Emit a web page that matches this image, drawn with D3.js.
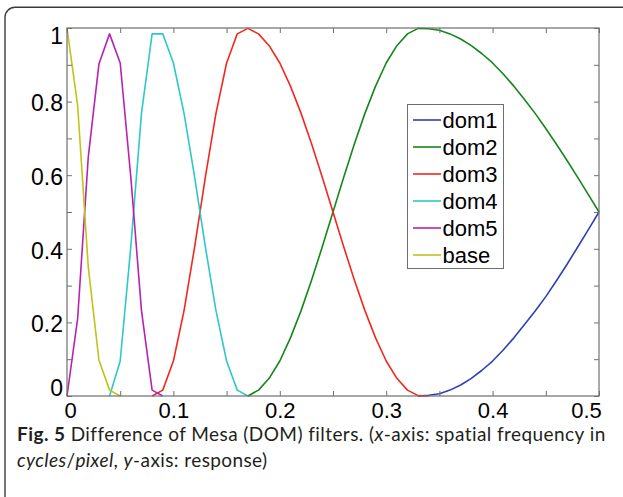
<!DOCTYPE html>
<html>
<head>
<meta charset="utf-8">
<script src="https://cdn.jsdelivr.net/npm/d3@7"></script>
<style>
  html, body { margin: 0; padding: 0; background: #fff; }
  svg { display: block; }
</style>
</head>
<body>
<svg id="chart" width="623" height="497"></svg>
<script>
// ---------------- data ----------------
const freq = [0,0.01,0.02,0.03,0.04,0.05,0.06,0.07,0.08,0.09,
  0.10,0.11,0.12,0.13,0.14,0.15,0.16,0.17,0.18,0.19,
  0.20,0.21,0.22,0.23,0.24,0.25,0.26,0.27,0.28,0.29,
  0.30,0.31,0.32,0.33,0.34,0.35,0.36,0.37,0.38,0.39,
  0.40,0.41,0.42,0.43,0.44,0.45,0.46,0.47,0.48,0.49,0.50];

const seriesNames = ["dom1","dom2","dom3","dom4","dom5","base"];
const seriesColors = ["#3040b4","#17861a","#f2281f","#2ec8c8","#b424b4","#c2c21c"];

// index into freq where each series begins
const dom1Start = 33;
const dom1 = [0,0.002,0.006,0.016,0.030,0.048,0.070,0.095,0.125,0.158,0.194,0.231,0.270,0.313,0.358,0.405,0.452,0.5];
const dom2Start = 17;
const dom2 = [0,0.016,0.048,0.095,0.158,0.232,0.316,0.406,0.5,0.594,0.684,0.768,0.842,0.905,0.952,0.984,0.999,
  0.998,0.994,0.984,0.970,0.952,0.930,0.905,0.875,0.842,0.806,0.768,0.727,0.684,0.640,0.594,0.547,0.5];
const dom3Start = 8;
const dom3 = [0,0.016,0.095,0.232,0.406,0.594,0.768,0.905,0.984,0.999,0.984,0.952,0.905,0.842,0.768,0.684,
  0.594,0.5,0.406,0.316,0.232,0.158,0.095,0.048,0.016,0.001,0];
const dom4Start = 4;
const dom4 = [0,0.095,0.406,0.768,0.984,0.984,0.905,0.768,0.594,0.406,0.232,0.095,0.016,0];
const dom5Start = 0;
const dom5 = [0,0.21,0.65,0.902,0.984,0.905,0.594,0.232,0.016,0];
const baseStart = 0;
const base = [1,0.79,0.35,0.098,0.016,0];

const xTickValues = [0,0.05,0.1,0.15,0.2,0.25,0.3,0.35,0.4,0.45,0.5];
const xTickLabels = {"0":"0","0.1":"0.1","0.2":"0.2","0.3":"0.3","0.4":"0.4","0.5":"0.5"};
const yTickValues = [0,0.1,0.2,0.3,0.4,0.5,0.6,0.7,0.8,0.9,1];
const yTickLabels = {"0":"0","0.2":"0.2","0.4":"0.4","0.6":"0.6","0.8":"0.8","1":"1"};

const captionBold = "Fig. 5";
const captionLine1 = [
  {t:" Difference of Mesa (DOM) filters. (", i:false},
  {t:"x", i:true},
  {t:"-axis: spatial frequency in", i:false}
];
const captionLine2 = [
  {t:"cycles", i:true},
  {t:"/", i:false},
  {t:"pixel", i:true},
  {t:", ", i:false},
  {t:"y", i:true},
  {t:"-axis: response)", i:false}
];

// ---------------- drawing ----------------
const svg = d3.select("#chart");

// outer panel frame (rounded corner, running off the right/bottom)
svg.append("rect")
  .attr("x", 5).attr("y", 7.3)
  .attr("width", 700).attr("height", 600)
  .attr("rx", 10).attr("ry", 10)
  .attr("fill", "#fff")
  .attr("stroke", "#3a3a3a")
  .attr("stroke-width", 1.4);

const plot = {left: 67, top: 28, right: 599, bottom: 396};
const x = d3.scaleLinear().domain([0, 0.5]).range([plot.left, plot.right]);
const y = d3.scaleLinear().domain([0, 1]).range([plot.bottom, plot.top]);

const fontAx = "'Liberation Sans', Arial, Helvetica, sans-serif";

// series
const allSeries = [
  {vals: dom1, start: dom1Start},
  {vals: dom2, start: dom2Start},
  {vals: dom3, start: dom3Start},
  {vals: dom4, start: dom4Start},
  {vals: dom5, start: dom5Start},
  {vals: base, start: baseStart}
];
const line = d3.line().x(d => x(d[0])).y(d => y(d[1]));
const gLines = svg.append("g");
allSeries.forEach((s, k) => {
  const pts = s.vals.map((v, i) => [freq[s.start + i], v]);
  gLines.append("path")
    .attr("d", line(pts))
    .attr("fill", "none")
    .attr("stroke", seriesColors[k])
    .attr("stroke-width", 1.6)
    .attr("stroke-linejoin", "round");
});

// axes (ticks pointing inward on all four sides)
const keyOf = v => String(+v.toFixed(2));
const axB = d3.axisBottom(x).tickValues(xTickValues).tickSizeInner(-5).tickSizeOuter(0).tickPadding(6)
  .tickFormat(v => xTickLabels[keyOf(v)] || "");
const axT = d3.axisTop(x).tickValues(xTickValues).tickSizeInner(-5).tickSizeOuter(0).tickFormat("");
const axL = d3.axisLeft(y).tickValues(yTickValues).tickSizeInner(-5).tickSizeOuter(0).tickPadding(4)
  .tickFormat(v => yTickLabels[keyOf(v)] || "");
const axR = d3.axisRight(y).tickValues(yTickValues).tickSizeInner(-5).tickSizeOuter(0).tickFormat("");

function styleAxis(g) {
  g.select(".domain").remove();
  g.selectAll(".tick line").attr("stroke", "#6e6e6e").attr("stroke-width", 1);
  g.selectAll(".tick text").attr("fill", "#000").style("font-family", fontAx).style("font-size", "23px");
}
const gB = svg.append("g").attr("transform", `translate(0,${plot.bottom})`).call(axB).call(styleAxis);
svg.append("g").attr("transform", `translate(0,${plot.top})`).call(axT).call(styleAxis);
const gL = svg.append("g").attr("transform", `translate(${plot.left},0)`).call(axL).call(styleAxis);
svg.append("g").attr("transform", `translate(${plot.right},0)`).call(axR).call(styleAxis);

// end labels nudged inward as in the figure
gB.selectAll(".tick text").style("font-size", "22px")
  .attr("dx", v => v === 0 ? 3 : (v === 0.5 ? -13 : 0));
gL.selectAll(".tick text").attr("dy", v => v === 1 ? "0.68em" : (v === 0 ? "-0.03em" : "0.4em"));

// plot box
svg.append("rect")
  .attr("x", plot.left).attr("y", plot.top)
  .attr("width", plot.right - plot.left).attr("height", plot.bottom - plot.top)
  .attr("fill", "none").attr("stroke", "#6e6e6e").attr("stroke-width", 1.2);

// legend
const leg = {x: 407.5, y: 104.5, w: 96, h: 164, row0: 120, rowH: 27};
const gLeg = svg.append("g");
gLeg.append("rect")
  .attr("x", leg.x).attr("y", leg.y).attr("width", leg.w).attr("height", leg.h)
  .attr("fill", "#fff").attr("stroke", "#6e6e6e").attr("stroke-width", 1);
seriesNames.forEach((name, k) => {
  const yy = leg.row0 + k * leg.rowH;
  gLeg.append("line")
    .attr("x1", leg.x + 5.5).attr("x2", leg.x + 33.5)
    .attr("y1", yy).attr("y2", yy)
    .attr("stroke", seriesColors[k]).attr("stroke-width", 1.6);
  gLeg.append("text")
    .attr("x", leg.x + 35).attr("y", yy).attr("dy", "0.36em")
    .style("font-family", fontAx).style("font-size", "22px")
    .attr("fill", "#000")
    .text(name);
});

// caption
const capFont = "Lato, 'Open Sans', 'Noto Sans', sans-serif";
const capSize = 19;
const cap = svg.append("g").attr("fill", "#231f20").style("font-family", capFont).style("font-size", capSize + "px");
const t1 = cap.append("text").attr("x", 17).attr("y", 441);
t1.append("tspan").style("font-weight", "bold").text(captionBold);
captionLine1.forEach(p => t1.append("tspan").style("font-style", p.i ? "italic" : "normal").text(p.t));
const t2 = cap.append("text").attr("x", 17).attr("y", 467);
captionLine2.forEach(p => t2.append("tspan").style("font-style", p.i ? "italic" : "normal").text(p.t));
// fit caption lines towards their widths in the figure, with gentle letter spacing
function fitLine(t, target, maxLs) {
  const n = t.text().length;
  const w = t.node().getComputedTextLength();
  let ls = (target - w) / n;
  ls = Math.max(-maxLs, Math.min(maxLs, ls));
  t.style("letter-spacing", ls + "px");
}
fitLine(t1, 588, 1.0);
fitLine(t2, 322, 0.4);
</script>
</body>
</html>
